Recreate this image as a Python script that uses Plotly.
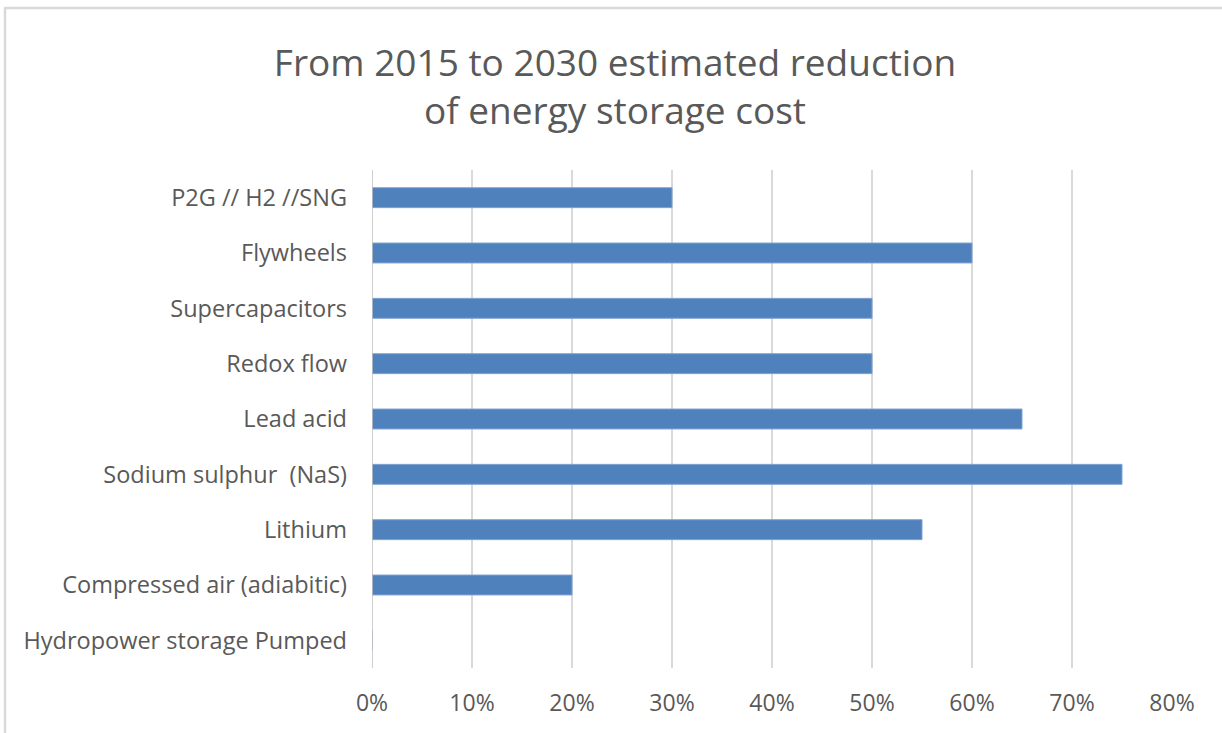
import plotly.graph_objects as go

# Storage technologies, bottom to top on the category axis
technologies = [
    "Hydropower storage Pumped",
    "Compressed air (adiabitic)",
    "Lithium",
    "Sodium sulphur  (NaS)",
    "Lead acid",
    "Redox flow",
    "Supercapacitors",
    "Flywheels",
    "P2G // H2 //SNG",
]
cost_reduction = [0.00, 0.20, 0.55, 0.75, 0.65, 0.50, 0.50, 0.60, 0.30]
x_ticks = [0.0, 0.1, 0.2, 0.3, 0.4, 0.5, 0.6, 0.7, 0.8]
x_tick_labels = ["0%", "10%", "20%", "30%", "40%", "50%", "60%", "70%", "80%"]

W, H = 1222, 733
M_L, M_R, M_T, M_B = 372, 50, 170, 65
PW, PH = W - M_L - M_R, H - M_T - M_B


def px_x(p):
    return (p - M_L) / PW


def px_y(p):
    return (H - M_B - p) / PH


fig = go.Figure(
    go.Bar(
        x=cost_reduction,
        y=technologies,
        orientation="h",
        width=0.36,
        marker=dict(color="#4F81BD", line=dict(color="#7FA3D3", width=1)),
        hoverinfo="x+y",
    )
)

fig.update_layout(
    width=W,
    height=H,
    margin=dict(l=M_L, r=M_R, t=M_T, b=M_B),
    paper_bgcolor="white",
    plot_bgcolor="white",
    showlegend=False,
    font=dict(family="Open Sans", color="#595959"),
    title=dict(
        text="From 2015 to 2030 estimated reduction<br>of energy storage cost",
        x=(615 / W),
        xanchor="center",
        y=1 - 76 / H,
        yanchor="middle",
        font=dict(size=37, color="#595959", family="Open Sans"),
    ),
    xaxis=dict(
        range=[0, 0.8],
        tickvals=x_ticks,
        ticktext=x_tick_labels,
        showgrid=True,
        gridcolor="#D9D9D9",
        gridwidth=1.5,
        zeroline=False,
        showline=False,
        ticks="",
        ticklabelstandoff=19,
        tickfont=dict(size=23, color="#595959"),
    ),
    yaxis=dict(
        categoryorder="array",
        categoryarray=technologies,
        showgrid=False,
        zeroline=False,
        showline=False,
        ticks="",
        ticklabelstandoff=24,
        tickfont=dict(size=23.5, color="#595959"),
    ),
    shapes=[
        # category axis line
        dict(type="line", xref="x", yref="paper", x0=0, x1=0, y0=0, y1=1,
             line=dict(color="#BFBFBF", width=1.5)),
        # chart-area frame (top and left edges)
        dict(type="line", xref="paper", yref="paper",
             x0=px_x(4), x1=px_x(W + 5), y0=px_y(8), y1=px_y(8),
             line=dict(color="#D9D9D9", width=2.5)),
        dict(type="line", xref="paper", yref="paper",
             x0=px_x(5), x1=px_x(5), y0=px_y(8), y1=px_y(H + 5),
             line=dict(color="#D9D9D9", width=2.5)),
    ],
)

fig.write_html("out.html")
